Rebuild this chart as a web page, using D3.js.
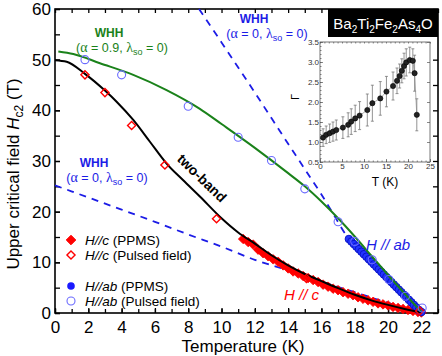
<!DOCTYPE html>
<html><head><meta charset="utf-8">
<script src="https://cdn.jsdelivr.net/npm/d3@7"></script>
<style>body{margin:0;background:#fff}svg{display:block;font-family:"Liberation Sans",Arial,sans-serif}</style>
</head><body><svg id="c" width="442" height="356"></svg>
<script>
// ---- data ----
const xTickLabels = [0,2,4,6,8,10,12,14,16,18,20,22];
const yTickLabels = [0,10,20,30,40,50,60];
// H//c PPMS (filled red diamonds)
const hcPPMS_T = [11.3,11.6,11.9,12.2,12.5,12.8,13.1,13.4,13.7,14.0,14.3,14.6,14.9,15.2,15.5,15.8,16.1,16.4,16.7,17.0,17.3,17.6,17.9,18.2,18.5,18.8,19.1,19.4,19.7,20.0,20.3,20.6,20.9,21.2,21.5,21.8,22.0];
const hcPPMS_H = [14.6,14.0,13.5,12.5,11.8,11.2,10.6,10.1,9.4,8.8,8.2,7.8,7.3,6.9,6.5,6.1,5.6,5.2,4.8,4.5,4.1,3.8,3.5,3.1,2.8,2.5,2.2,1.9,1.7,1.5,1.2,1.0,0.8,0.6,0.4,0.2,0.1];
// H//c pulsed (open red diamonds)
const hcPulse_T = [1.8,3.0,4.6,6.6,9.7,15.1,21.9];
const hcPulse_H = [47.0,43.5,37.0,29.2,18.6,6.8,0.4];
// H//ab PPMS (filled blue circles)
const habPPMS_T = [17.65,17.8,17.95,18.1,18.25,18.4,18.55,18.7,18.85,19.0,19.15,19.3,19.45,19.6,19.75,19.9,20.05,20.2,20.35,20.5,20.65,20.8,20.95,21.1,21.25,21.4,21.55,21.7,21.85,22.0];
const habPPMS_H = [14.6,14.1,13.6,13.1,12.6,12.1,11.6,11.1,10.6,10.1,9.6,9.1,8.6,8.1,7.6,7.1,6.6,6.1,5.6,5.1,4.6,4.1,3.6,3.1,2.6,2.1,1.6,1.1,0.6,0.2];
// H//ab pulsed (open blue circles)
const habPulse_T = [1.8,4.0,8.0,11.0,13.0,15.0,17.0,18.0,19.05,20.05,21.05,22.05];
const habPulse_H = [50.0,47.0,40.8,34.7,30.1,24.5,18.0,14.1,10.5,6.6,3.3,1.0];
// two-band fit (black)
const twoBand_T = [0,0.7,1.8,3.0,3.7,4.7,5.7,6.7,7.7,8.7,10.0,11.0,12.0,13.0,14.0,15.0,16.0,17.0,18.0,19.0,20.0,21.0,22.0];
const twoBand_H = [49.9,49.6,47.2,43.9,41.7,38.1,33.8,29.5,26.2,23.0,18.7,15.9,13.7,11.4,9.4,7.7,6.3,4.9,3.6,2.5,1.6,0.8,0.1];
// WHH alpha=0.9 (green)
const whhGreen_T = [0.2,1.1,2.7,4.7,6.7,8.7,10.0,12.0,14.0,15.0,16.0,17.0,18.0,19.0,20.0,21.0,22.0];
const whhGreen_H = [51.6,51.1,49.3,47.0,44.0,40.3,37.3,32.6,27.6,25.0,22.0,18.7,15.1,11.3,7.5,3.8,0.2];
// WHH alpha=0 for H//ab (steep blue dashed)
const whhAb_T = [8.65,10.0,12.0,14.0,15.0,16.0,16.7,17.5,18.5,19.5,20.5,21.3,22.0];
const whhAb_H = [60.0,53.4,43.5,33.4,28.4,23.4,19.6,15.3,11.6,8.3,5.0,2.5,0.0];
// WHH alpha=0 for H//c (shallow blue dashed)
const whhC_T = [0,2,4,6,8,10,12,14,16,18,20,22];
const whhC_H = [25.2,22.8,20.4,18.0,15.5,13.1,10.5,8.4,6.2,4.1,2.0,0.0];
// inset: anisotropy Gamma
const inset_T = [0.7,1.4,2.2,2.95,3.7,5.2,6.4,7.1,8.0,9.0,10.75,11.9,13.7,15.1,16.6,17.5,18.1,18.6,19.1,19.6,20.4,21.1,21.5,22.0];
const inset_G = [1.11,1.18,1.22,1.26,1.30,1.36,1.43,1.51,1.59,1.66,1.80,1.97,2.09,2.26,2.40,2.53,2.65,2.78,2.90,2.99,3.05,3.03,2.72,1.68];
const inset_E = [0.22,0.22,0.23,0.24,0.25,0.27,0.30,0.32,0.33,0.35,0.40,0.45,0.42,0.38,0.35,0.32,0.30,0.30,0.32,0.34,0.32,0.30,0.45,0.40];
const insetXTicks = [0,5,10,15,20,25];
const insetYTicks = [0.5,1.0,1.5,2.0,2.5,3.0,3.5];

// ---- drawing ----
const svg = d3.select("#c");
const L=55,R=438,T=9,B=313;
const x = d3.scaleLinear().domain([0,23]).range([L,R]);
const y = d3.scaleLinear().domain([0,60]).range([B,T]);
const zip=(a,b)=>a.map((v,i)=>[v,b[i]]);
const BLUE="#1c1ce6", GREEN="#1a821a", RED="#ff0000";

// axes
function styleAxis(g,fs){g.select(".domain").remove();g.selectAll("line").attr("stroke","#000").attr("stroke-width",1.3);g.selectAll("text").attr("font-size",fs).attr("fill","#000").attr("font-family","Liberation Sans, Arial, sans-serif");}
const minorX=d3.range(0,24,1), minorY=d3.range(0,61,5);
svg.append("g").attr("transform",`translate(0,${B})`).call(d3.axisBottom(x).tickValues(minorX).tickFormat("").tickSizeInner(-4).tickSizeOuter(0)).call(g=>styleAxis(g,17));
svg.append("g").attr("transform",`translate(0,${B})`).call(d3.axisBottom(x).tickValues(xTickLabels).tickSizeInner(-5).tickSizeOuter(0).tickPadding(8)).call(g=>styleAxis(g,17));
svg.append("g").attr("transform",`translate(0,${T})`).call(d3.axisTop(x).tickValues(minorX).tickFormat("").tickSizeInner(-4).tickSizeOuter(0)).call(g=>styleAxis(g,17));
svg.append("g").attr("transform",`translate(${L},0)`).call(d3.axisLeft(y).tickValues(minorY).tickFormat("").tickSizeInner(-5).tickSizeOuter(0)).call(g=>styleAxis(g,17));
svg.append("g").attr("transform",`translate(${L},0)`).call(d3.axisLeft(y).tickValues(yTickLabels).tickSizeInner(-5).tickSizeOuter(0).tickPadding(4)).call(g=>styleAxis(g,17));
svg.append("g").attr("transform",`translate(${R},0)`).call(d3.axisRight(y).tickValues(minorY).tickFormat("").tickSizeInner(-5).tickSizeOuter(0)).call(g=>styleAxis(g,17));
svg.append("rect").attr("x",L).attr("y",T).attr("width",R-L).attr("height",B-T).attr("fill","none").attr("stroke","#000").attr("stroke-width",1.6);

// axis titles
svg.append("text").attr("x",243).attr("y",352).attr("text-anchor","middle").attr("font-size",17).text("Temperature (K)");
const yl=svg.append("text").attr("transform","translate(19,174) rotate(-90)").attr("text-anchor","middle").attr("font-size",17);
yl.append("tspan").text("Upper critical field ");
yl.append("tspan").attr("font-style","italic").text("H");
yl.append("tspan").attr("font-size",12).attr("dy",4).text("c2");
yl.append("tspan").attr("dy",-4).text(" (T)");

const line=d3.line().x(d=>x(d[0])).y(d=>y(d[1])).curve(d3.curveMonotoneX);
const plot=svg.append("g");
// dashed WHH lines
plot.append("path").datum(zip(whhC_T,whhC_H)).attr("d",line).attr("fill","none").attr("stroke",BLUE).attr("stroke-width",1.8).attr("stroke-dasharray","7,6");
plot.append("path").datum(zip(whhAb_T,whhAb_H)).attr("d",line).attr("fill","none").attr("stroke",BLUE).attr("stroke-width",1.8).attr("stroke-dasharray","7,6");

// filled markers
const diamond=d3.symbol().type(d3.symbolDiamond2).size(58);
plot.selectAll(".rd").data(zip(hcPPMS_T,hcPPMS_H)).join("path").attr("transform",d=>`translate(${x(d[0])},${y(d[1])})`).attr("d",diamond).attr("fill",RED).attr("stroke",RED).attr("stroke-width",0.8);
plot.selectAll(".bc").data(zip(habPPMS_T,habPPMS_H)).join("circle").attr("cx",d=>x(d[0])).attr("cy",d=>y(d[1])).attr("r",3.8).attr("fill","#2233ff").attr("stroke","#0a14c8").attr("stroke-width",1);

// fit lines
plot.append("path").datum(zip(whhGreen_T,whhGreen_H)).attr("d",line).attr("fill","none").attr("stroke",GREEN).attr("stroke-width",2);
plot.append("path").datum(zip(twoBand_T,twoBand_H)).attr("d",line).attr("fill","none").attr("stroke","#000").attr("stroke-width",2);

// open markers
const diamondO=d3.symbol().type(d3.symbolDiamond2).size(42);
plot.selectAll(".ro").data(zip(hcPulse_T,hcPulse_H)).join("path").attr("transform",d=>`translate(${x(d[0])},${y(d[1])})`).attr("d",diamondO).attr("fill","none").attr("stroke",RED).attr("stroke-width",1.4);
plot.selectAll(".bo").data(zip(habPulse_T,habPulse_H)).join("circle").attr("cx",d=>x(d[0])).attr("cy",d=>y(d[1])).attr("r",4).attr("fill","none").attr("stroke","#6b6bff").attr("stroke-width",1.1);

// annotations
function whh(xc,yb,col,alpha){
  svg.append("text").attr("x",xc).attr("y",yb).attr("text-anchor","middle").attr("font-size",12).attr("font-weight","bold").attr("fill",col).text("WHH");
  const t=svg.append("text").attr("x",xc+13).attr("y",yb+15).attr("text-anchor","middle").attr("font-size",12.5).attr("fill",col);
  t.append("tspan").text("(");
  t.append("tspan").attr("font-family","Liberation Serif, serif").attr("font-size",14).text("α");
  t.append("tspan").text(" = "+alpha+", ");
  t.append("tspan").attr("font-family","Liberation Serif, serif").attr("font-size",14).text("λ");
  t.append("tspan").attr("font-size",9).attr("dy",3).text("so");
  t.append("tspan").attr("dy",-3).text(" = 0)");
}
whh(109,37,GREEN,"0.9");
whh(254,23,BLUE,"0");
whh(94,167,BLUE,"0");
svg.append("text").attr("transform","translate(202,178) rotate(44)").attr("text-anchor","middle").attr("dominant-baseline","central").attr("font-size",14).attr("font-weight","bold").text("two-band");
svg.append("text").attr("x",366).attr("y",250).attr("font-size",15).attr("font-style","italic").attr("fill",BLUE).text("H // ab");
svg.append("text").attr("x",284).attr("y",300).attr("font-size",15).attr("font-style","italic").attr("fill",RED).text("H // c");

// legend
const leg=[{k:"fd",i:"H//c",t:" (PPMS)",y:240},{k:"od",i:"H//c",t:" (Pulsed field)",y:255},{k:"fc",i:"H//ab",t:" (PPMS)",y:286},{k:"oc",i:"H//ab",t:" (Pulsed field)",y:301}];
leg.forEach(d=>{
  if(d.k==="fd") svg.append("path").attr("transform",`translate(71,${d.y})`).attr("d",diamond).attr("fill",RED).attr("stroke",RED);
  if(d.k==="od") svg.append("path").attr("transform",`translate(71,${d.y})`).attr("d",diamondO).attr("fill","none").attr("stroke",RED).attr("stroke-width",1.4);
  if(d.k==="fc") svg.append("circle").attr("cx",71).attr("cy",d.y).attr("r",3.8).attr("fill","#1a1aff");
  if(d.k==="oc") svg.append("circle").attr("cx",71).attr("cy",d.y).attr("r",4).attr("fill","none").attr("stroke","#6b6bff").attr("stroke-width",1.1);
  const t=svg.append("text").attr("x",85).attr("y",d.y+5).attr("font-size",13.5);
  t.append("tspan").attr("font-style","italic").text(d.i);
  t.append("tspan").text(d.t);
});

// title box
svg.append("rect").attr("x",328).attr("y",9).attr("width",110).attr("height",28).attr("fill","#000");
const ft=svg.append("text").attr("x",383).attr("y",29).attr("text-anchor","middle").attr("font-size",15).attr("fill","#fff");
const parts=[["Ba","2"],["Ti","2"],["Fe","2"],["As","4"],["O",null]];
let shifted=false;
parts.forEach(p=>{
  ft.append("tspan").attr("dy",shifted?-4:0).text(p[0]); shifted=false;
  if(p[1]){ft.append("tspan").attr("font-size",10).attr("dy",4).text(p[1]); shifted=true;}
});

// inset
const iL=320,iR=430,iT=42,iB=162;
const ix=d3.scaleLinear().domain([0,25]).range([iL,iR]);
const iy=d3.scaleLinear().domain([0.5,3.5]).range([iB,iT]);
const ins=svg.append("g");
ins.append("rect").attr("x",iL).attr("y",iT).attr("width",iR-iL).attr("height",iB-iT).attr("fill","#fff").attr("stroke","#555").attr("stroke-width",0.8);
function sA(g){g.select(".domain").remove();g.selectAll("line").attr("stroke","#555").attr("stroke-width",0.7);g.selectAll("text").attr("font-size",8).attr("fill","#333").attr("font-family","Liberation Sans, Arial, sans-serif");}
ins.append("g").attr("transform",`translate(0,${iB})`).call(d3.axisBottom(ix).tickValues(d3.range(0,26,1)).tickFormat("").tickSizeInner(-1.5).tickSizeOuter(0)).call(sA);
ins.append("g").attr("transform",`translate(0,${iB})`).call(d3.axisBottom(ix).tickValues(insetXTicks).tickFormat(d3.format("d")).tickSizeInner(-3).tickSizeOuter(0).tickPadding(1)).call(sA);
ins.append("g").attr("transform",`translate(0,${iT})`).call(d3.axisTop(ix).tickValues(d3.range(0,26,1)).tickFormat("").tickSizeInner(-1.5).tickSizeOuter(0)).call(sA);
ins.append("g").attr("transform",`translate(${iL},0)`).call(d3.axisLeft(iy).tickValues(insetYTicks).tickFormat(d3.format(".1f")).tickSizeInner(-3).tickSizeOuter(0).tickPadding(1)).call(sA);
ins.append("g").attr("transform",`translate(${iL},0)`).call(d3.axisLeft(iy).tickValues(d3.range(0.5,3.51,0.1)).tickFormat("").tickSizeInner(-1.5).tickSizeOuter(0)).call(sA);
ins.append("g").attr("transform",`translate(${iR},0)`).call(d3.axisRight(iy).tickValues(insetYTicks).tickFormat("").tickSizeInner(-3).tickSizeOuter(0)).call(sA);
ins.append("text").attr("x",385).attr("y",186).attr("text-anchor","middle").attr("font-size",12).text("T (K)");
ins.append("text").attr("transform","translate(299,97) rotate(-90)").attr("text-anchor","middle").attr("font-size",11).text("Γ");
const idat=inset_T.map((t,i)=>({t,g:inset_G[i],e:inset_E[i]}));
const eb=ins.append("g").attr("stroke","#777").attr("stroke-width",0.8);
idat.forEach(d=>{
  eb.append("line").attr("x1",ix(d.t)).attr("x2",ix(d.t)).attr("y1",iy(d.g-d.e)).attr("y2",iy(d.g+d.e));
  [d.g-d.e,d.g+d.e].forEach(v=>eb.append("line").attr("x1",ix(d.t)-1.5).attr("x2",ix(d.t)+1.5).attr("y1",iy(v)).attr("y2",iy(v)));
});
ins.append("path").datum(idat).attr("d",d3.line().x(d=>ix(d.t)).y(d=>iy(d.g))).attr("fill","none").attr("stroke","#888").attr("stroke-width",0.7);
ins.selectAll(".ip").data(idat).join("circle").attr("cx",d=>ix(d.t)).attr("cy",d=>iy(d.g)).attr("r",2.6).attr("fill","#222").attr("stroke","#000").attr("stroke-width",0.6);
</script></body></html>
